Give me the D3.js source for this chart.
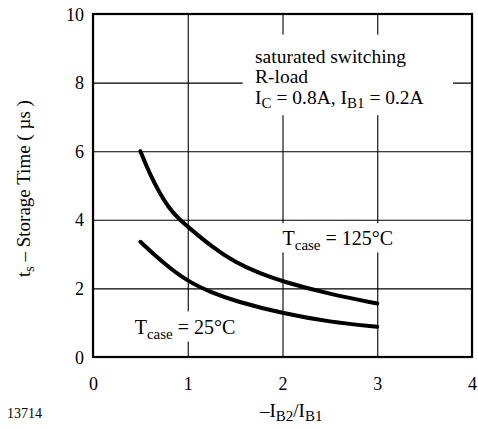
<!DOCTYPE html>
<html>
<head>
<meta charset="utf-8">
<script src="https://cdn.jsdelivr.net/npm/d3@7"></script>
<style>
  body { margin: 0; background: #fff; }
</style>
</head>
<body>
<div id="chart"></div>
<script>
// data
var ratio125 = [0.5, 0.6, 0.7, 0.8, 0.9, 1, 1.25, 1.5, 1.75, 2, 2.5, 3];
var time125 = [6.0, 5.33, 4.8, 4.35, 4.04, 3.8, 3.22, 2.76, 2.45, 2.2, 1.83, 1.56];
var ratio25 = [0.5, 0.75, 1, 1.25, 1.5, 2, 2.5, 3];
var time25 = [3.36, 2.72, 2.2, 1.88, 1.63, 1.27, 1.02, 0.88];
var xTicks = [0, 1, 2, 3, 4];
var yTicks = [0, 2, 4, 6, 8, 10];

var serif = "'Liberation Serif', 'Times New Roman', Times, serif";

var svgWidth = 478;
var svgHeight = 429;
var margin = { top: 14, right: 6, bottom: 72, left: 93 };
var width = svgWidth - margin.left - margin.right;
var height = svgHeight - margin.top - margin.bottom;

var svg = d3.select("#chart")
  .append("svg")
  .attr("width", svgWidth)
  .attr("height", svgHeight)
  .style("font-family", serif);

var chartGroup = svg.append("g")
  .attr("transform", `translate(${margin.left}, ${margin.top})`);

var x = d3.scaleLinear().domain([0, 4]).range([0, width]);
var y = d3.scaleLinear().domain([0, 10]).range([height, 0]);

// grid
var xAxis = chartGroup.append("g")
  .attr("transform", `translate(0, ${height})`)
  .call(d3.axisBottom(x).tickValues(xTicks).tickSize(-height).tickPadding(20).tickFormat(d3.format("d")));
var yAxis = chartGroup.append("g")
  .call(d3.axisLeft(y).tickValues(yTicks).tickSize(-width).tickPadding(9).tickFormat(d3.format("d")));

[xAxis, yAxis].forEach(function(ax) {
  ax.attr("font-family", null).attr("font-size", null);
  ax.select(".domain").remove();
  ax.selectAll("line").attr("stroke", "#000").attr("stroke-width", 1.1);
  ax.selectAll("text").style("font-family", serif).style("font-size", "18px").attr("fill", "#000");
});
xAxis.selectAll("text").attr("dy", "0.71em");
yAxis.selectAll("text").attr("dy", "0.34em");

// white patches behind labels inside the plot
function blank(x0, x1, y0, y1) {
  chartGroup.append("rect")
    .attr("x", x(x0)).attr("y", y(y1))
    .attr("width", x(x1) - x(x0)).attr("height", y(y0) - y(y1))
    .attr("fill", "#fff");
}
blank(1.58, 3.8, 7.05, 9.4);
blank(1.93, 3.25, 3.05, 3.9);
blank(0.4, 1.55, 0.45, 1.33);

// frame
chartGroup.append("rect")
  .attr("x", 0).attr("y", 0)
  .attr("width", width).attr("height", height)
  .attr("fill", "none").attr("stroke", "#000").attr("stroke-width", 2.2);

// curves
var line = d3.line()
  .x(d => x(d[0]))
  .y(d => y(d[1]))
  .curve(d3.curveBasis);

[[ratio125, time125], [ratio25, time25]].forEach(function(s) {
  chartGroup.append("path")
    .datum(d3.zip(s[0], s[1]))
    .attr("d", line)
    .attr("fill", "none")
    .attr("stroke", "#000")
    .attr("stroke-width", 4)
    .attr("stroke-linecap", "round");
});

// annotation
var note = chartGroup.append("text")
  .attr("x", x(1.71))
  .attr("y", y(8.58))
  .style("font-size", "19.5px");
note.append("tspan").attr("x", x(1.71)).text("saturated switching");
note.append("tspan").attr("x", x(1.71)).attr("dy", 20.5).text("R-load");
var l3 = note.append("tspan").attr("x", x(1.71)).attr("dy", 20.5).text("I");
l3.append("tspan").attr("dy", 4).style("font-size", "15px").text("C");
l3.append("tspan").attr("dy", -4).text(" = 0.8A, I");
l3.append("tspan").attr("dy", 4).style("font-size", "15px").text("B1");
l3.append("tspan").attr("dy", -4).text(" = 0.2A");

function tcase(px, py, label) {
  var t = chartGroup.append("text")
    .attr("x", x(px)).attr("y", y(py))
    .style("font-size", "20px");
  t.append("tspan").text("T");
  t.append("tspan").attr("dy", 5).style("font-size", "15px").text("case");
  t.append("tspan").attr("dy", -5).text(" = " + label);
}
tcase(2.0, 3.26, "125°C");
tcase(0.44, 0.68, "25°C");

// axis titles
var xTitle = svg.append("text")
  .attr("x", 260).attr("y", 417)
  .style("font-size", "19px");
xTitle.append("tspan").text("–I");
xTitle.append("tspan").attr("dy", 4).style("font-size", "15px").text("B2");
xTitle.append("tspan").attr("dy", -4).text("/I");
xTitle.append("tspan").attr("dy", 4).style("font-size", "15px").text("B1");

var yTitle = svg.append("text")
  .attr("transform", "translate(30, 277) rotate(-90)")
  .style("font-size", "19px");
yTitle.append("tspan").text("t");
yTitle.append("tspan").attr("dy", 4).style("font-size", "14px").text("s");
yTitle.append("tspan").attr("dy", -4).text(" – Storage Time ( µs )");

svg.append("text")
  .attr("x", 7).attr("y", 418)
  .style("font-size", "14px")
  .text("13714");
</script>
</body>
</html>
